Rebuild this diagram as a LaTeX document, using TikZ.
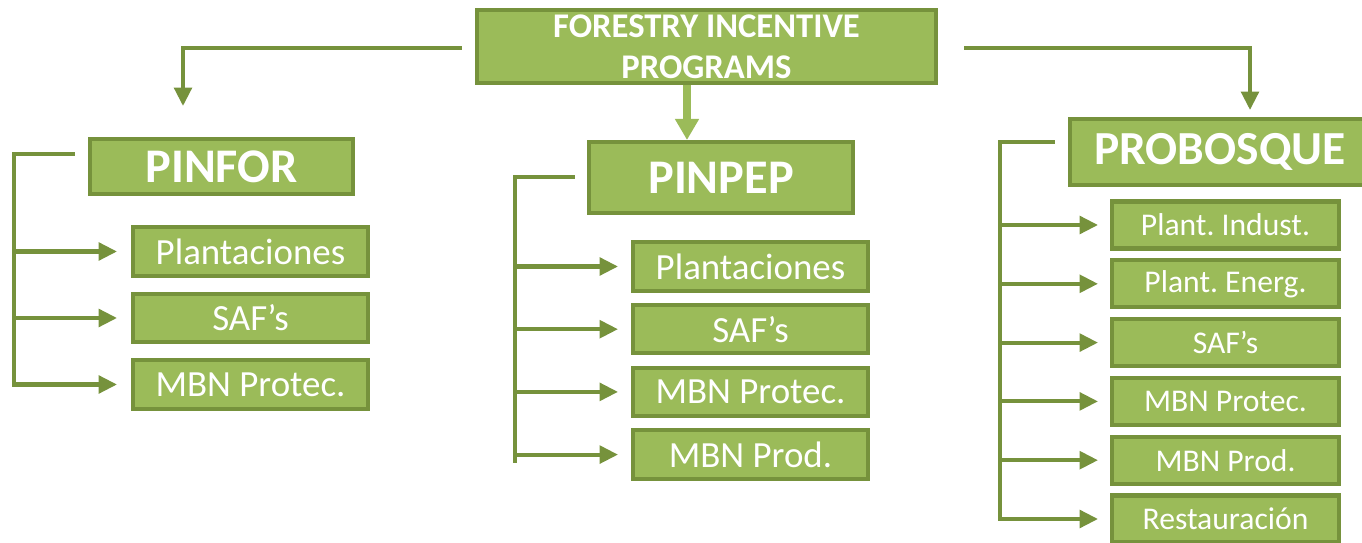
\documentclass[tikz,border=0pt]{standalone}
\usepackage{fontspec}
\setmainfont{Carlito}
\usetikzlibrary{arrows.meta}
\definecolor{leaf}{HTML}{9BBB59}
\definecolor{bark}{HTML}{76923C}
\frenchspacing

\tikzset{
    prog/.style={draw=bark, fill=leaf, line width=2.3pt, text=white, align=center, inner sep=0pt},
    item/.style={prog, minimum width=4.7cm, minimum height=0.97cm, font=\fontsize{21}{25}\selectfont},
    smallitem/.style={prog, minimum width=4.54cm, minimum height=0.94cm, font=\fontsize{18}{21}\selectfont},
    bar/.style={draw=bark, line width=2.3pt, line cap=rect},
    branch/.style={draw=bark, line width=2.3pt, -{Triangle[length=10.5pt,width=10pt]}},
    feed/.style={draw=leaf, line width=4.5pt, -{Triangle[length=12pt,width=13pt]}}
}

\begin{document}
\begin{tikzpicture}[x=0.02cm, y=-0.02cm]
    \clip (0,0) rectangle (1362,543);

    % Top box
    \node[prog, minimum width=9.18cm, minimum height=1.46cm, font=\bfseries\fontsize{19.7}{23.5}\selectfont] (forestry) at (706.5,46.5) {FORESTRY INCENTIVE\\PROGRAMS};

    % Programs
    \node[prog, minimum width=5.26cm, minimum height=1.1cm, font=\bfseries\fontsize{27.5}{32}\selectfont] (pinfor) at (221.5,166.5) {PINFOR};
    \node[prog, minimum width=5.28cm, minimum height=1.42cm, font=\bfseries\fontsize{27.5}{32}\selectfont] (pinpep) at (721,177.5) {PINPEP};
    \node[prog, minimum width=6.0cm, minimum height=1.32cm, font=\bfseries\fontsize{27}{32}\selectfont] (probosque) at (1220,152) {PROBOSQUE};

    % From the top box
    \coordinate (pinfor-in) at (183,106);
    \coordinate (probosque-in) at (1250,110);
    \coordinate (mid) at (687,0);
    \draw[branch, line cap=rect] ([xshift=-0.3cm,yshift=-0.03cm]forestry.west) -| (pinfor-in);
    \draw[branch, line cap=rect] ([xshift=0.56cm,yshift=-0.03cm]forestry.east) -| (probosque-in);
    \draw[feed] (forestry.south -| mid) -- (pinpep.north -| mid);

    % PINFOR
    \foreach \t [count=\i] in {Plantaciones, SAF’s, MBN Protec.}
        \node[item] (pinfor-\i) at (250.5,{251.5+66.5*(\i-1)}) {\t};
    \coordinate (pinfor-bar) at (14,154);
    \draw[bar] ([xshift=-0.3cm]pinfor.west |- pinfor-bar) -- (pinfor-bar) -- (pinfor-bar |- pinfor-3.west);
    \foreach \i in {1,2,3}
        \draw[branch] (pinfor-bar |- pinfor-\i.west) -- ([xshift=-0.28cm]pinfor-\i.west);

    % PINPEP
    \foreach \t [count=\i] in {Plantaciones, SAF’s, MBN Protec., MBN Prod.}
        \node[item] (pinpep-\i) at (750.5,{266.5+62.7*(\i-1)}) {\t};
    \coordinate (pinpep-bar) at (515,177);
    \draw[bar] ([xshift=-0.28cm]pinpep.west |- pinpep-bar) -- (pinpep-bar) -- ([yshift=-0.12cm]pinpep-bar |- pinpep-4.west);
    \foreach \i in {1,...,4}
        \draw[branch] (pinpep-bar |- pinpep-\i.west) -- ([xshift=-0.26cm]pinpep-\i.west);

    % PROBOSQUE
    \foreach \t [count=\i] in {Plant. Indust., Plant. Energ., SAF’s, MBN Protec., MBN Prod., Restauración}
        \node[smallitem] (probosque-\i) at (1225.5,{225+58.8*(\i-1)}) {\t};
    \coordinate (probosque-bar) at (1000,142);
    \draw[bar] ([xshift=-0.3cm]probosque.west |- probosque-bar) -- (probosque-bar) -- (probosque-bar |- probosque-6.west);
    \foreach \i in {1,...,6}
        \draw[branch] (probosque-bar |- probosque-\i.west) -- ([xshift=-0.24cm]probosque-\i.west);
\end{tikzpicture}
\end{document}
